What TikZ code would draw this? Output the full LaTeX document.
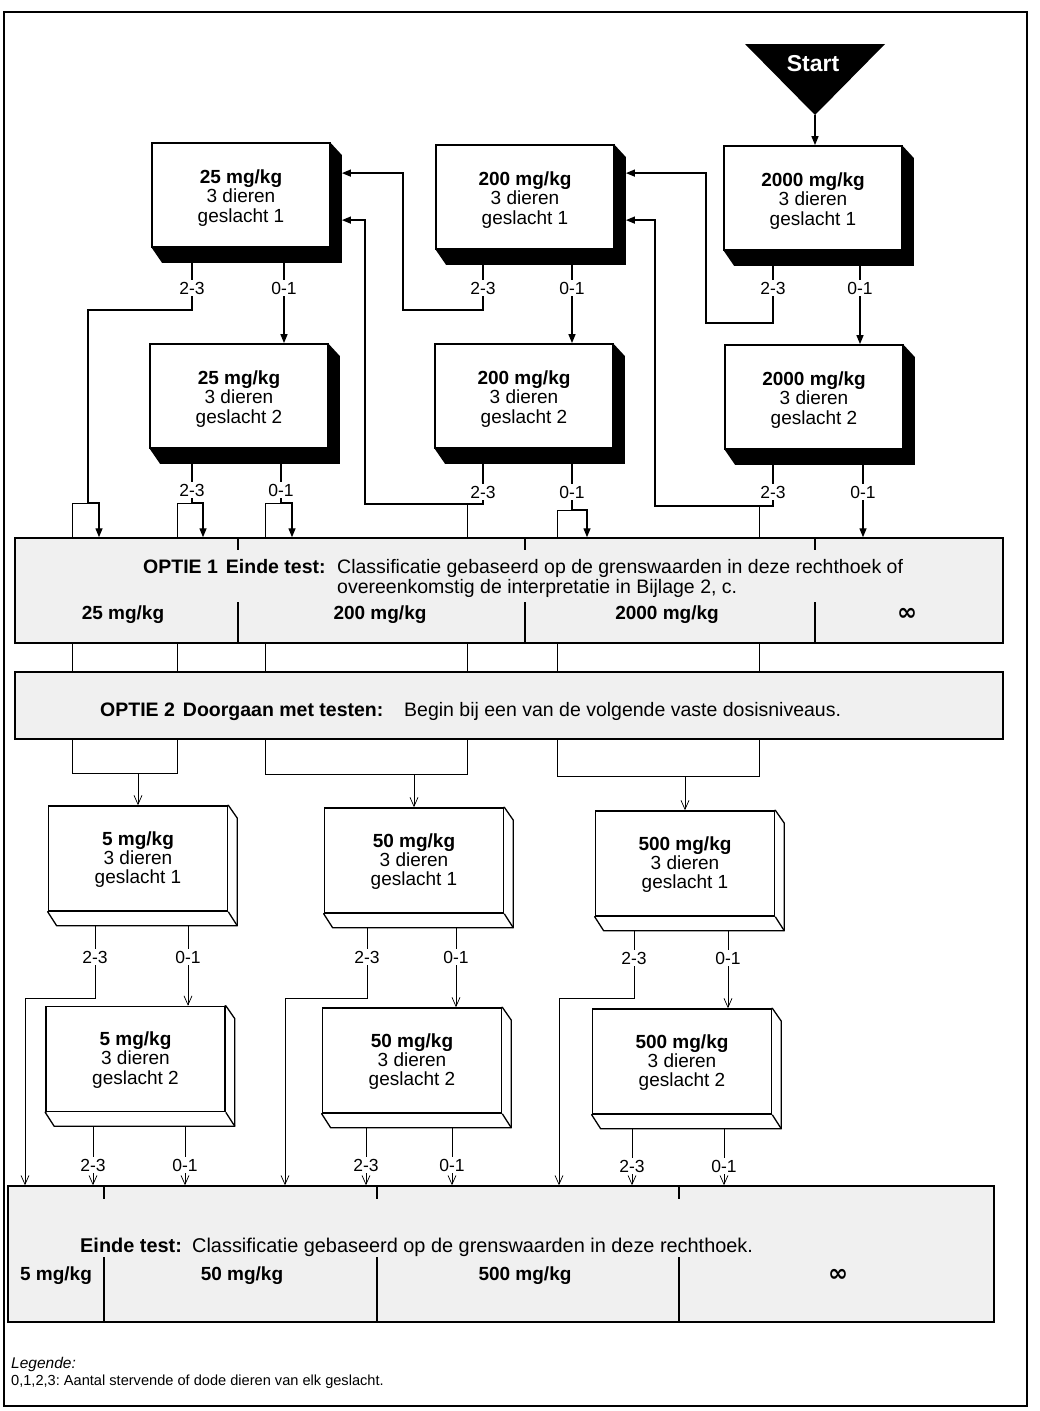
\documentclass[tikz,border=0pt]{standalone}
\usepackage{fontspec}
\setmainfont{Liberation Sans}
\newfontfamily\djv{DejaVu Sans}
\usetikzlibrary{arrows.meta,calc,backgrounds}
\frenchspacing
\tikzset{
  ubx/.style={draw, line width=1.8pt, fill=white, minimum width=178pt, minimum height=104pt, inner sep=0pt},
  lbx/.style={ubx, line width=1.6pt, minimum width=179pt, minimum height=105pt},
  btxt/.style={align=center, inner sep=0pt, font=\fontsize{19}{19.3}\selectfont},
  lab/.style={font=\fontsize{17.5}{17.5}\selectfont, inner sep=2pt},
  thk/.style={line width=1.4pt},
  tarr/.style={thk, -{Triangle[length=9pt,width=7pt]}},
  thn/.style={line width=0.7pt},
  varr/.style={thn, -{Straight Barb[length=9pt,width=8pt]}},
  rbox/.style={draw, line width=1.5pt, fill=black!6, inner sep=0pt},
  rtxt/.style={font=\fontsize{19.5}{19.5}\selectfont, inner sep=0pt, anchor=base west},
  dlab/.style={font=\fontsize{19}{19}\selectfont\bfseries, inner sep=0pt, anchor=base},
  inf/.style={font=\fontsize{24}{24}\selectfont\djv\bfseries, inner sep=0pt, anchor=base},
  divl/.style={line width=1.4pt},
}
\newcommand{\UpBox}[4]{%
  \node[ubx] (#1) at (#2,#3) {};
  \node[btxt] (#1t) at ($(#1)+(0,3)$) {#4};
  \begin{scope}[on background layer]
    \fill ($(#1.north east)+(-1,0)$) -- ++(12,13) -- ($(#1.south east)+(11,15)$)
      -- ($(#1.south west)+(11,15)$) -- ($(#1.south west)+(0,-1)$) -- cycle;
  \end{scope}
  \coordinate (#1d) at ($(#1.south)+(0,15)$);
}
\newcommand{\LowBox}[4]{%
  \node[lbx] (#1) at (#2,#3) {};
  \node[btxt] (#1t) at ($(#1)+(0,1)$) {#4};
  \begin{scope}[on background layer]
    \filldraw[fill=white, line width=1.3pt, line join=round] (#1.north east) -- ++(9,13)
      -- ($(#1.south east)+(9,14)$) -- ($(#1.south west)+(9,14)$) -- (#1.south west) -- cycle;
    \draw[line width=1.3pt] (#1.south east) -- ++(9,14);
  \end{scope}
  \coordinate (#1d) at ($(#1.south)+(0,14)$);
}
\begin{document}
\begin{tikzpicture}[x=1pt,y=-1pt]
\useasboundingbox (0,0) rectangle (1040,1411);
% frame
\draw[line width=1.5pt] (4,12) rectangle (1027,1406);

% start
\fill (745,44) -- (885,44) -- (815,115) -- cycle;
\coordinate (apex) at (815,115);
\node[font=\fontsize{23}{23}\selectfont\bfseries, text=white] (start) at (813,64) {Start};

% upper boxes
\UpBox{A1}{241}{195}{{\bfseries 25 mg/kg}\\3 dieren\\geslacht 1}
\UpBox{B1}{525}{197}{{\bfseries 200 mg/kg}\\3 dieren\\geslacht 1}
\UpBox{C1}{813}{198}{{\bfseries 2000 mg/kg}\\3 dieren\\geslacht 1}
\UpBox{A2}{239}{396}{{\bfseries 25 mg/kg}\\3 dieren\\geslacht 2}
\UpBox{B2}{524}{396}{{\bfseries 200 mg/kg}\\3 dieren\\geslacht 2}
\UpBox{C2}{814}{397}{{\bfseries 2000 mg/kg}\\3 dieren\\geslacht 2}

\coordinate (A1in1) at ($(A1.north east)+(11,31)$);
\coordinate (A1in2) at ($(A1.north east)+(11,78)$);
\coordinate (B1in1) at ($(B1.north east)+(11,29)$);
\coordinate (B1in2) at ($(B1.north east)+(11,76)$);

% labels upper
\node[lab] (a1l23) at (192,288) {2-3};
\node[lab] (a1l01) at (284,288) {0-1};
\node[lab] (b1l23) at (483,288) {2-3};
\node[lab] (b1l01) at (572,288) {0-1};
\node[lab] (c1l23) at (773,288) {2-3};
\node[lab] (c1l01) at (860,288) {0-1};
\node[lab] (a2l23) at (192,490) {2-3};
\node[lab] (a2l01) at (281,490) {0-1};
\node[lab] (b2l23) at (483,492) {2-3};
\node[lab] (b2l01) at (572,492) {0-1};
\node[lab] (c2l23) at (773,492) {2-3};
\node[lab] (c2l01) at (863,492) {0-1};

\foreach \b/\l in {A1/a1l23,A1/a1l01,B1/b1l23,B1/b1l01,C1/c1l23,C1/c1l01,
                   A2/a2l23,A2/a2l01,B2/b2l23,B2/b2l01,C2/c2l23,C2/c2l01}
  \draw[thk] (\b d -| \l) -- (\l.north);

% rectangles
\node[rbox, minimum width=988pt, minimum height=105pt] (r1) at (509,590.5) {};
\node[rbox, minimum width=988pt, minimum height=67pt] (r2) at (509,705.5) {};
\node[rbox, minimum width=986pt, minimum height=136pt] (rb) at (501,1254) {};

% option 1 dividers and text
\foreach \x in {238,525,815} {
  \draw[divl] (\x,538) -- (\x,550);
  \draw[divl] (\x,602) -- (\x,643);
}
\node[rtxt] (o1h) at (143,573) {\bfseries OPTIE 1\hspace{8pt}Einde test:};
\node[rtxt] (o1a) at (337,573) {Classificatie gebaseerd op de grenswaarden in deze rechthoek of};
\node[rtxt] (o1b) at (337,593) {overeenkomstig de interpretatie in Bijlage 2, c.};
\node[dlab] (o1d1) at (123,619) {25 mg/kg};
\node[dlab] (o1d2) at (380,619) {200 mg/kg};
\node[dlab] (o1d3) at (667,619) {2000 mg/kg};
\node[inf] (o1d4) at (907,620) {∞};

% option 2 text
\node[rtxt] (o2h) at (100,716) {\bfseries OPTIE 2\hspace{8pt}Doorgaan met testen:};
\node[rtxt] (o2a) at (404,716) {Begin bij een van de volgende vaste dosisniveaus.};

% upper connectors
\draw[tarr] (apex) -- (apex |- C1.north);
\draw[tarr] (c1l23.south) |- (706,323) |- (B1in1);
\draw[tarr] (b1l23.south) |- (403,310) |- (A1in1);
\draw[thk] (a1l23.south) |- (88,310) -- (88,503);
\draw[tarr] (88,503) -| (99,0 |- r1.north);
\draw[thn] (88,503) -| (72,0 |- r1.north);
\draw[tarr] (a1l01.south) -- (a1l01.south |- A2.north);
\draw[tarr] (b1l01.south) -- (b1l01.south |- B2.north);
\draw[tarr] (c1l01.south) -- (c1l01.south |- C2.north);

\coordinate (j1) at (a2l23.south |- 0,503);
\draw[thk] (a2l23.south) -- (j1);
\draw[tarr] (j1) -| (203,0 |- r1.north);
\draw[thn] (j1) -| (177,0 |- r1.north);

\coordinate (j2) at (a2l01.south |- 0,503);
\draw[thk] (a2l01.south) -- (j2);
\draw[tarr] (j2) -| (292,0 |- r1.north);
\draw[thn] (j2) -| (265,0 |- r1.north);

\draw[tarr] (b2l23.south) |- (365,504) |- (A1in2);
\draw[thn] (467,504) -- (467,0 |- r1.north);

\coordinate (j4) at (b2l01.south |- 0,510);
\draw[thk] (b2l01.south) -- (j4);
\draw[tarr] (j4) -| (587,0 |- r1.north);
\draw[thn] (j4) -| (557,0 |- r1.north);

\draw[tarr] (c2l23.south) |- (655,506) |- (B1in2);
\draw[thn] (759,506) -- (759,0 |- r1.north);

\draw[tarr] (c2l01.south) -- (c2l01.south |- r1.north);

% thin lines through option rectangles
\foreach \x in {72,177,265,467,557,759}
  \draw[thn] (\x,0 |- r1.south) -- (\x,0 |- r2.north);

% lower boxes
\LowBox{D1}{138}{858.5}{{\bfseries 5 mg/kg}\\3 dieren\\geslacht 1}
\LowBox{E1}{414}{860.5}{{\bfseries 50 mg/kg}\\3 dieren\\geslacht 1}
\LowBox{F1}{685}{863.5}{{\bfseries 500 mg/kg}\\3 dieren\\geslacht 1}
\LowBox{D2}{135.5}{1059}{{\bfseries 5 mg/kg}\\3 dieren\\geslacht 2}
\LowBox{E2}{412}{1060.5}{{\bfseries 50 mg/kg}\\3 dieren\\geslacht 2}
\LowBox{F2}{682}{1061.5}{{\bfseries 500 mg/kg}\\3 dieren\\geslacht 2}

% brackets from option 2
\draw[thn] (72,0 |- r2.south) |- (177,773) -- (177,0 |- r2.south);
\draw[varr] (D1.north |- 0,773) -- (D1.north);
\draw[thn] (265,0 |- r2.south) |- (467,774) -- (467,0 |- r2.south);
\draw[varr] (E1.north |- 0,774) -- (E1.north);
\draw[thn] (557,0 |- r2.south) |- (759,776) -- (759,0 |- r2.south);
\draw[varr] (F1.north |- 0,776) -- (F1.north);

% lower labels
\node[lab] (d1l23) at (95,957) {2-3};
\node[lab] (d1l01) at (188,957) {0-1};
\node[lab] (e1l23) at (367,957) {2-3};
\node[lab] (e1l01) at (456,957) {0-1};
\node[lab] (f1l23) at (634,958) {2-3};
\node[lab] (f1l01) at (728,958) {0-1};
\node[lab] (d2l23) at (93,1165) {2-3};
\node[lab] (d2l01) at (185,1165) {0-1};
\node[lab] (e2l23) at (366,1165) {2-3};
\node[lab] (e2l01) at (452,1165) {0-1};
\node[lab] (f2l23) at (632,1166) {2-3};
\node[lab] (f2l01) at (724,1166) {0-1};

\foreach \b/\l in {D1/d1l23,D1/d1l01,E1/e1l23,E1/e1l01,F1/f1l23,F1/f1l01,
                   D2/d2l23,D2/d2l01,E2/e2l23,E2/e2l01,F2/f2l23,F2/f2l01}
  \draw[thn] (\b d -| \l) -- (\l.north);

\draw[varr] (d1l23.south) |- (25,998) -- (25,0 |- rb.north);
\draw[varr] (e1l23.south) |- (285,998) -- (285,0 |- rb.north);
\draw[varr] (f1l23.south) |- (559,998) -- (559,0 |- rb.north);
\draw[varr] (d1l01.south) -- (d1l01.south |- D2.north);
\draw[varr] (e1l01.south) -- (e1l01.south |- E2.north);
\draw[varr] (f1l01.south) -- (f1l01.south |- F2.north);
\foreach \l in {d2l23,d2l01,e2l23,e2l01,f2l23,f2l01}
  \draw[varr] (\l.south) -- (\l.south |- rb.north);

% bottom rectangle
\foreach \x in {104,377,679} {
  \draw[divl] (\x,1186) -- (\x,1199);
  \draw[divl] (\x,1257) -- (\x,1322);
}
\node[rtxt, font=\fontsize{19.9}{19.9}\selectfont] (ebh) at (80,1252) {\bfseries Einde test:};
\node[rtxt, font=\fontsize{19.9}{19.9}\selectfont] (eba) at (192,1252) {Classificatie gebaseerd op de grenswaarden in deze rechthoek.};
\node[dlab] (ebd1) at (56,1280) {5 mg/kg};
\node[dlab] (ebd2) at (242,1280) {50 mg/kg};
\node[dlab] (ebd3) at (525,1280) {500 mg/kg};
\node[inf] (ebd4) at (838,1281) {∞};

% legend
\node[anchor=base west, inner sep=0pt, font=\fontsize{15.5}{15.5}\selectfont\itshape] (leg1) at (11,1368) {Legende:};
\node[anchor=base west, inner sep=0pt, font=\fontsize{14.6}{14.6}\selectfont] (leg2) at (11,1385) {0,1,2,3: Aantal stervende of dode dieren van elk geslacht.};
\end{tikzpicture}
\end{document}
